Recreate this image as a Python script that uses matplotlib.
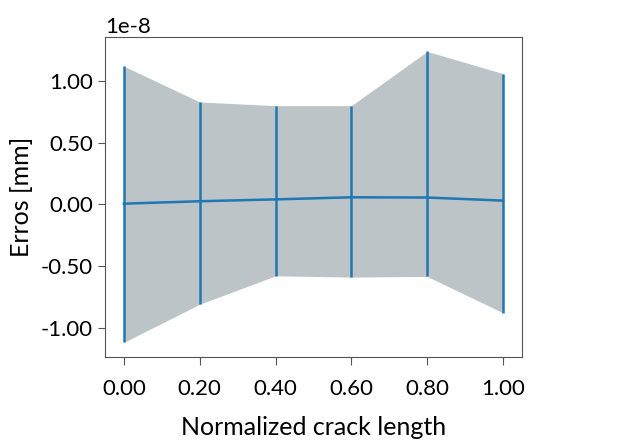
import matplotlib
matplotlib.use('Agg')
import numpy as np
import matplotlib.pyplot as plt
from matplotlib.ticker import ScalarFormatter, FormatStrFormatter

plt.rcParams['font.family'] = ['Lato', 'DejaVu Sans']
plt.rcParams['axes.unicode_minus'] = False

# error statistics along the crack, in units of 1e-8 mm
crack_pos = [0.0, 0.2, 0.4, 0.6, 0.8, 1.0]
err_mean  = [0.005, 0.025, 0.04, 0.057, 0.055, 0.03]
err_upper = [1.12, 0.83, 0.80, 0.80, 1.24, 1.06]
err_lower = [-1.12, -0.81, -0.58, -0.59, -0.585, -0.88]
SCALE = 1e-8


class FixedScalarFormatter(ScalarFormatter):
    def _set_format(self):
        self.format = '%1.2f'


x = np.array(crack_pos)
mean = np.array(err_mean) * SCALE
upper = np.array(err_upper) * SCALE
lower = np.array(err_lower) * SCALE

fig = plt.figure(figsize=(6.17, 4.44), dpi=100)
ax = fig.add_axes([0.170, 0.196, 0.676, 0.721])

ax.fill_between(x, lower, upper, color='#bdc4c7', linewidth=0)
ax.errorbar(x, mean, yerr=[mean - lower, upper - mean], color='#1f77b4',
            linewidth=1.8, elinewidth=1.8, capsize=0)

ax.set_xticks(crack_pos)
ax.xaxis.set_major_formatter(FormatStrFormatter('%.2f'))
ax.set_yticks(np.array([-1.0, -0.5, 0.0, 0.5, 1.0]) * SCALE)
yfmt = FixedScalarFormatter(useOffset=False)
yfmt.set_powerlimits((0, 0))
ax.yaxis.set_major_formatter(yfmt)

ax.tick_params(labelsize=16, color='#555555', length=5)
ax.tick_params(axis='x', length=6, pad=10)
ax.yaxis.get_offset_text().set_fontsize(16)
for sp in ax.spines.values():
    sp.set_color('#555555')

ax.set_xlabel('Normalized crack length', fontsize=18, labelpad=12)
ax.set_ylabel('Erros [mm]', fontsize=18, labelpad=6)

fig.savefig('out.png', dpi=100)
